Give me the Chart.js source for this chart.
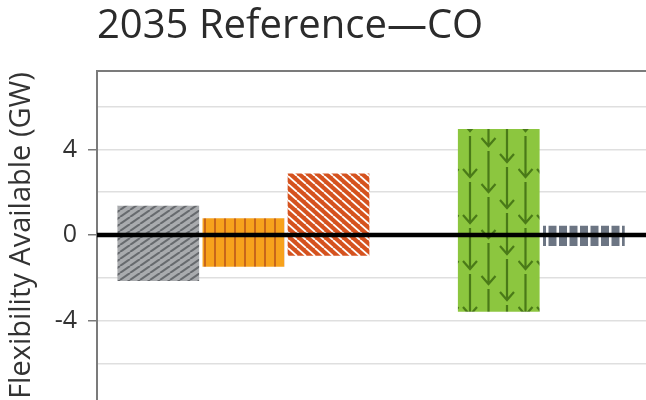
<!DOCTYPE html>
<html>
<head>
<meta charset="utf-8">
<script src="https://cdn.jsdelivr.net/npm/chart.js@4.4.1/dist/chart.umd.min.js"></script>
<style>
  html, body { margin: 0; padding: 0; background: #fff; overflow: hidden; }
  #wrap { width: 646px; height: 400px; }
</style>
</head>
<body>
<div id="wrap"><canvas id="chartArea"></canvas></div>
<script>
// values (GW)
const chartTitle = '2035 Reference\u2014CO';
const yTitle = 'Flexibility Available (GW)';
const categories = ['Resource 1', 'Resource 2', 'Resource 3', 'Resource 4', 'Resource 5'];
const slots = [1, 2, 3, 5, 6];            // slot 4 is left empty in the original
const lows = [-2.15, -1.48, -0.97, -3.58, -0.51];
const highs = [1.37, 0.78, 2.88, 4.95, 0.43];
const yMin = -7.7, yMax = 7.66;
const xMin = 0.28, xMax = 6.73;
const labelledTicks = [-4, 0, 4];

function makeTile(w, h, bg, draw) {
    const c = document.createElement('canvas');
    c.width = w;
    c.height = h;
    const g = c.getContext('2d');
    g.fillStyle = bg;
    g.fillRect(0, 0, w, h);
    draw(g, w, h);
    return g.createPattern(c, 'repeat');
}

// grey, rising hatch
const greyHatch = makeTile(10, 7, '#a9abae', (g, w, h) => {
    g.strokeStyle = '#676a6e';
    g.lineWidth = 2;
    for (let k = -1; k <= 1; k++) {
        g.beginPath();
        g.moveTo(k * w, h);
        g.lineTo(k * w + w, 0);
        g.stroke();
    }
});

// orange, vertical stripes
const orangeStripes = makeTile(10, 10, '#f7a21c', (g, w, h) => {
    g.fillStyle = '#c7661b';
    g.fillRect(4, 0, 2, h);
});

// red-orange, falling white hatch
const redHatch = makeTile(9, 8, '#d5521e', (g, w, h) => {
    g.strokeStyle = '#ffffff';
    g.lineWidth = 1.8;
    for (let k = -1; k <= 1; k++) {
        g.beginPath();
        g.moveTo(k * w, 0);
        g.lineTo(k * w + w, h);
        g.stroke();
    }
});

// green, down arrows
const greenArrows = makeTile(74, 46, '#8cc63f', (g, w, h) => {
    g.strokeStyle = '#4a7a18';
    g.lineWidth = 2.2;
    const cols = [[26, 39], [44.5, 8], [63, 24], [7.5, 39]];
    for (const [x, tip] of cols) {
        for (let k = -1; k <= 1; k++) {
            const t = tip + k * h;
            g.beginPath();
            g.moveTo(x, t - 41);
            g.lineTo(x, t);
            g.moveTo(x - 7, t - 8);
            g.lineTo(x, t);
            g.lineTo(x + 7, t - 8);
            g.stroke();
        }
    }
});

// slate, blocks with white gaps
const slateBlocks = makeTile(21, 10, '#6c7583', (g, w, h) => {
    g.fillStyle = '#ffffff';
    g.fillRect(0, 0, 2.5, h);
    g.fillRect(10.5, 0, 2.5, h);
});

const fills = [greyHatch, orangeStripes, redHatch, greenArrows, slateBlocks];

const axisLines = {
    id: 'axisLines',
    afterDatasetsDraw(chart) {
        const { ctx, chartArea, scales } = chart;
        const y0 = scales.y.getPixelForValue(0);
        ctx.save();
        ctx.strokeStyle = '#000';
        ctx.lineWidth = 4.5;
        ctx.beginPath();
        ctx.moveTo(chartArea.left, y0);
        ctx.lineTo(chartArea.right, y0);
        ctx.stroke();
        ctx.strokeStyle = '#7b7b7b';
        ctx.lineWidth = 2;
        ctx.beginPath();
        ctx.moveTo(chartArea.left - 1, chartArea.top);
        ctx.lineTo(chartArea.right, chartArea.top);
        ctx.stroke();
        ctx.restore();
    }
};

const ctx = document.getElementById('chartArea');
const data = {
    datasets: [{
        label: 'Flexibility Available (GW)',
        data: slots.map((x, i) => ({ x: x, y: [lows[i], highs[i]], name: categories[i] })),
        backgroundColor: fills,
        borderWidth: 0,
        barPercentage: 0.96,
        categoryPercentage: 1,
    }]
};

const chart = new Chart(ctx, {
    type: 'bar',
    data: data,
    plugins: [axisLines],
    options: {
        responsive: true,
        maintainAspectRatio: false,
        animation: false,
        layout: { padding: 0 },
        plugins: {
            legend: { display: false },
            title: {
                display: true,
                text: chartTitle,
                align: 'start',
                fullSize: false,
                color: '#2b2b2b',
                font: { family: 'Open Sans', size: 40, weight: 'normal' },
                padding: { top: 3, bottom: 20 }
            },
            tooltip: {
                callbacks: {
                    title: items => items[0].raw.name,
                    label: item => item.raw.y[0] + ' to ' + item.raw.y[1] + ' GW'
                }
            }
        },
        scales: {
            x: {
                type: 'linear',
                min: xMin,
                max: xMax,
                offset: false,
                display: false,
                ticks: { stepSize: 1, includeBounds: false }
            },
            y: {
                min: yMin,
                max: yMax,
                afterFit: s => {
                    s.width = 97;
                    s.paddingTop = 0;
                    s.paddingBottom = 0;
                },
                border: { color: '#7b7b7b', width: 2 },
                grid: {
                    color: '#dfdfdf',
                    lineWidth: 1.5,
                    tickLength: 9,
                    tickWidth: 1.5,
                    tickColor: c => (c.tick && labelledTicks.includes(c.tick.value)) ? '#7b7b7b' : 'rgba(0,0,0,0)'
                },
                ticks: {
                    stepSize: 2,
                    includeBounds: false,
                    padding: 11,
                    color: '#333',
                    font: { family: 'Open Sans', size: 25 },
                    callback: v => labelledTicks.includes(v) ? String(v) : ''
                },
                title: {
                    display: true,
                    text: yTitle,
                    color: '#333',
                    font: { family: 'Open Sans', size: 29 },
                    padding: { top: 4, bottom: 0 }
                }
            }
        }
    }
});
</script>
</body>
</html>
